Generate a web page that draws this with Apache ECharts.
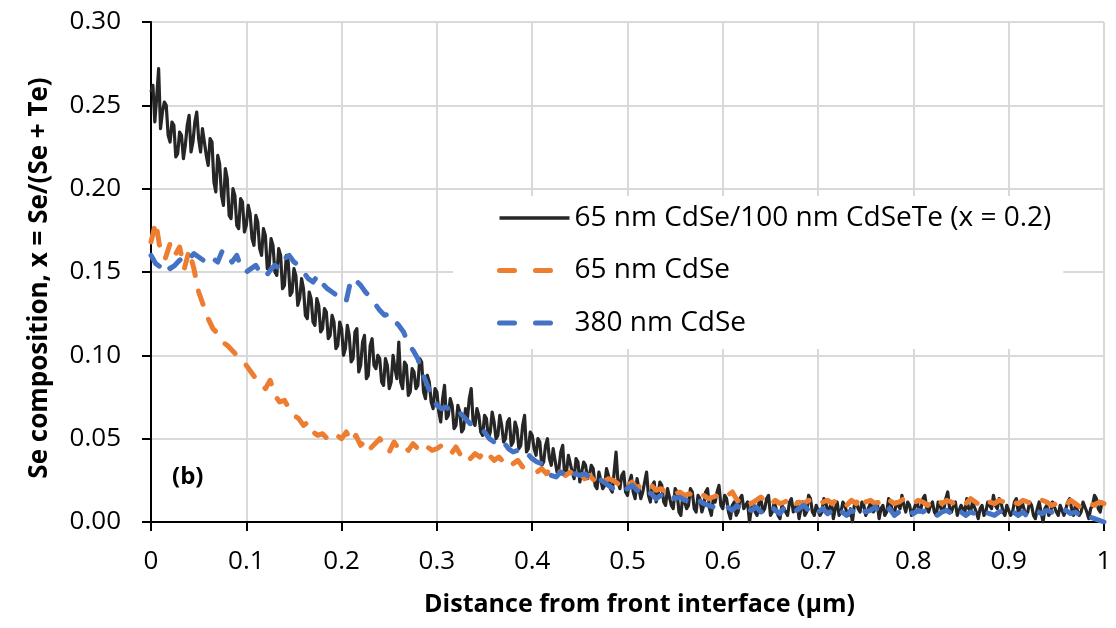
<!DOCTYPE html>
<html>
<head>
<meta charset="utf-8">
<script src="https://cdn.jsdelivr.net/npm/echarts@6/dist/echarts.min.js"></script>
<style>html,body{margin:0;padding:0;background:#fff}#chart{width:1116px;height:628px}</style>
</head>
<body>
<div id="chart"></div>
<script>
// Series names
const seriesNames = ['65 nm CdSe/100 nm CdSeTe (x = 0.2)', '65 nm CdSe', '380 nm CdSe'];
// Sampling steps (µm) of the profiles
const blackStep = 0.002;
const dashStep = 0.005;
// 65 nm CdSe/100 nm CdSeTe (x = 0.2), x = 0 ... 1 µm (one row per 0.1 µm)
const blackY = [
0.258,0.262,0.240,0.255,0.272,0.236,0.246,0.252,0.250,0.232,0.228,0.240,0.238,0.219,0.221,0.234,0.232,0.218,0.226,0.238,0.244,0.222,0.228,0.240,0.246,0.230,0.222,0.236,0.236,0.220,0.214,0.230,0.228,0.204,0.198,0.220,0.215,0.196,0.190,0.212,0.206,0.184,0.182,0.200,0.196,0.178,0.176,0.194,0.192,0.174,
0.178,0.190,0.185,0.170,0.166,0.184,0.180,0.164,0.160,0.176,0.172,0.152,0.154,0.170,0.166,0.150,0.148,0.164,0.160,0.140,0.142,0.160,0.156,0.136,0.138,0.152,0.148,0.130,0.134,0.146,0.140,0.124,0.122,0.138,0.134,0.120,0.118,0.134,0.130,0.114,0.116,0.128,0.126,0.110,0.112,0.124,0.120,0.104,0.106,0.120,
0.116,0.100,0.104,0.118,0.112,0.096,0.098,0.114,0.116,0.090,0.094,0.108,0.112,0.086,0.088,0.106,0.110,0.094,0.092,0.100,0.098,0.084,0.082,0.098,0.094,0.080,0.084,0.100,0.092,0.086,0.108,0.084,0.080,0.096,0.094,0.076,0.078,0.092,0.090,0.080,0.082,0.098,0.096,0.078,0.074,0.088,0.084,0.072,0.068,0.080,
0.078,0.066,0.060,0.074,0.082,0.062,0.064,0.074,0.070,0.056,0.058,0.070,0.066,0.054,0.056,0.068,0.062,0.074,0.080,0.060,0.058,0.068,0.064,0.054,0.052,0.064,0.062,0.050,0.054,0.066,0.060,0.050,0.052,0.064,0.058,0.048,0.050,0.060,0.062,0.046,0.048,0.060,0.056,0.044,0.046,0.058,0.064,0.042,0.044,0.054,
0.052,0.044,0.040,0.050,0.048,0.034,0.036,0.046,0.050,0.038,0.034,0.044,0.044,0.030,0.032,0.042,0.046,0.028,0.030,0.040,0.040,0.030,0.026,0.038,0.036,0.024,0.024,0.036,0.034,0.026,0.028,0.034,0.032,0.022,0.020,0.030,0.030,0.020,0.022,0.032,0.028,0.020,0.018,0.030,0.042,0.024,0.020,0.028,0.030,0.018,
0.016,0.024,0.028,0.018,0.014,0.026,0.026,0.014,0.018,0.024,0.030,0.016,0.012,0.022,0.024,0.012,0.016,0.024,0.022,0.012,0.010,0.020,0.020,0.010,0.008,0.020,0.018,0.006,0.004,0.016,0.016,0.008,0.010,0.020,0.018,0.008,0.006,0.016,0.014,0.006,0.010,0.018,0.020,0.008,0.004,0.014,0.012,0.018,0.022,0.010,
0.008,0.016,0.014,0.006,0.002,0.010,0.012,0.004,0.006,0.014,0.016,0.008,0.008,0.012,0.000,0.008,0.012,0.006,0.004,0.012,0.014,0.006,0.008,0.014,0.016,0.004,0.006,0.012,0.012,0.004,0.002,0.010,0.010,0.006,0.004,0.012,0.014,0.006,0.008,0.012,0.002,0.008,0.012,0.004,0.006,0.016,0.014,0.006,0.004,0.010,
0.010,0.004,0.006,0.014,0.012,0.006,0.008,0.012,0.002,0.008,0.012,0.004,0.006,0.012,0.010,0.006,0.004,0.008,0.000,0.010,0.012,0.008,0.006,0.012,0.010,0.004,0.004,0.010,0.012,0.006,0.008,0.012,0.002,0.008,0.010,0.004,0.006,0.014,0.012,0.006,0.004,0.012,0.010,0.008,0.016,0.010,0.006,0.012,0.010,0.004,
0.004,0.010,0.012,0.006,0.008,0.014,0.016,0.008,0.006,0.010,0.012,0.006,0.004,0.012,0.010,0.006,0.008,0.014,0.018,0.008,0.006,0.010,0.012,0.004,0.004,0.010,0.010,0.006,0.014,0.008,0.006,0.012,0.012,0.006,0.002,0.008,0.010,0.004,0.006,0.012,0.012,0.008,0.016,0.010,0.008,0.014,0.012,0.006,0.004,0.010,
0.010,0.004,0.006,0.012,0.014,0.006,0.008,0.012,0.012,0.004,0.006,0.012,0.010,0.004,0.002,0.008,0.012,0.006,0.000,0.008,0.010,0.004,0.006,0.012,0.012,0.006,0.004,0.010,0.010,0.004,0.008,0.012,0.014,0.008,0.004,0.010,0.010,0.004,0.006,0.012,0.012,0.006,0.002,0.008,0.010,0.016,0.014,0.008,0.006,0.012,
0.010];
// 65 nm CdSe, x = 0 ... 1 µm
const orangeY = [
0.168,0.180,0.162,0.158,0.167,0.160,0.165,0.152,0.163,0.152,0.138,0.130,0.122,0.116,0.113,0.108,0.106,0.103,0.100,0.097,
0.094,0.090,0.086,0.084,0.080,0.085,0.076,0.072,0.073,0.068,0.064,0.062,0.058,0.060,0.054,0.052,0.053,0.050,0.049,0.052,
0.050,0.054,0.048,0.052,0.046,0.049,0.044,0.047,0.050,0.046,0.042,0.048,0.044,0.046,0.043,0.047,0.044,0.042,0.045,0.043,
0.044,0.046,0.043,0.041,0.045,0.040,0.042,0.038,0.041,0.039,0.043,0.040,0.037,0.039,0.036,0.038,0.035,0.037,0.033,0.032,
0.031,0.030,0.032,0.029,0.033,0.031,0.030,0.028,0.030,0.027,0.029,0.026,0.028,0.025,0.027,0.024,0.026,0.025,0.023,0.025,
0.022,0.024,0.020,0.023,0.021,0.022,0.019,0.020,0.018,0.019,0.017,0.018,0.016,0.017,0.015,0.017,0.016,0.014,0.015,0.016,
0.014,0.016,0.018,0.013,0.012,0.014,0.011,0.013,0.015,0.012,0.010,0.013,0.011,0.012,0.014,0.010,0.012,0.011,0.013,0.012,
0.010,0.012,0.013,0.011,0.014,0.012,0.010,0.013,0.011,0.016,0.012,0.013,0.011,0.012,0.010,0.013,0.011,0.012,0.014,0.012,
0.011,0.013,0.012,0.010,0.012,0.014,0.011,0.013,0.012,0.010,0.012,0.011,0.014,0.012,0.010,0.013,0.012,0.011,0.013,0.012,
0.010,0.012,0.011,0.013,0.012,0.010,0.011,0.013,0.012,0.010,0.011,0.012,0.010,0.013,0.011,0.009,0.012,0.011,0.010,0.012,
0.011];
// 380 nm CdSe, x = 0 ... 1 µm
const blueY = [
0.160,0.155,0.153,0.156,0.152,0.154,0.157,0.160,0.158,0.161,0.159,0.157,0.160,0.158,0.156,0.163,0.160,0.156,0.160,0.152,
0.150,0.152,0.154,0.149,0.147,0.151,0.154,0.152,0.158,0.160,0.156,0.154,0.150,0.146,0.144,0.148,0.143,0.140,0.138,0.136,
0.137,0.133,0.146,0.145,0.142,0.138,0.135,0.131,0.127,0.124,0.125,0.121,0.118,0.114,0.107,0.103,0.098,0.089,0.082,0.075,
0.070,0.068,0.069,0.066,0.064,0.065,0.062,0.059,0.058,0.056,0.054,0.050,0.048,0.046,0.048,0.044,0.042,0.043,0.040,0.041,
0.038,0.036,0.035,0.031,0.028,0.027,0.030,0.028,0.026,0.029,0.028,0.029,0.027,0.028,0.026,0.024,0.022,0.020,0.021,0.019,
0.020,0.022,0.019,0.016,0.018,0.017,0.014,0.016,0.015,0.017,0.014,0.015,0.013,0.014,0.012,0.013,0.011,0.010,0.009,0.008,
0.008,0.009,0.007,0.010,0.006,0.008,0.007,0.009,0.006,0.008,0.010,0.007,0.005,0.009,0.008,0.006,0.008,0.010,0.007,0.009,
0.006,0.008,0.005,0.007,0.009,0.006,0.004,0.007,0.005,0.008,0.006,0.007,0.009,0.005,0.006,0.008,0.004,0.006,0.008,0.007,
0.005,0.007,0.006,0.008,0.006,0.004,0.006,0.007,0.005,0.008,0.006,0.004,0.006,0.005,0.007,0.006,0.005,0.004,0.006,0.007,
0.005,0.006,0.004,0.006,0.003,0.004,0.006,0.005,0.007,0.006,0.004,0.006,0.007,0.005,0.006,0.004,0.005,0.003,0.002,0.001,
0.000];

function pairs(ys, step) { return ys.map((y, i) => [+(i * step).toFixed(4), y]); }

const FONT = '"Open Sans", "Noto Sans", sans-serif';
const chart = echarts.init(document.getElementById('chart'), null, {renderer: 'canvas'});
chart.setOption({
  animation: false,
  backgroundColor: '#fff',
  grid: {left: 151, right: 12, top: 22, bottom: 106, containLabel: false},
  xAxis: {
    type: 'value', min: 0, max: 1, interval: 0.1,
    name: 'Distance from front interface (µm)', nameLocation: 'middle', nameGap: 70,
    nameTextStyle: {fontFamily: FONT, fontWeight: 'bold', fontSize: 25, color: '#000', padding: [0, 0, 0, 24]},
    axisLine: {show: true, onZero: false, lineStyle: {color: '#000', width: 2}},
    axisTick: {show: true, inside: false, length: 9, lineStyle: {color: '#000', width: 2}},
    splitLine: {show: true, lineStyle: {color: '#d9d9d9', width: 2}},
    axisLabel: {fontFamily: FONT, fontSize: 26, color: '#000', margin: 27,
      formatter: v => (v === 0 ? '0' : (v === 1 ? '1' : v.toFixed(1)))}
  },
  yAxis: {
    type: 'value', min: 0, max: 0.3, interval: 0.05,
    name: 'Se composition, x = Se/(Se + Te)', nameLocation: 'middle', nameGap: 98, nameRotate: 90,
    nameTextStyle: {fontFamily: FONT, fontWeight: 'bold', fontSize: 26, color: '#000', padding: [0, 12, 0, 0]},
    axisLine: {show: true, lineStyle: {color: '#000', width: 2}},
    axisTick: {show: true, inside: false, length: 9, lineStyle: {color: '#000', width: 2}},
    splitLine: {show: true, lineStyle: {color: '#d9d9d9', width: 2}},
    axisLabel: {fontFamily: FONT, fontSize: 26, color: '#000', margin: 30,
      formatter: v => v.toFixed(2)}
  },
  legend: {
    orient: 'vertical', left: 453, top: 196,
    padding: [4, 12, 8, 44],
    backgroundColor: '#fff',
    itemWidth: 70, itemHeight: 14, itemGap: 16.5, itemTextGap: 10,
    itemStyle: {opacity: 0, borderWidth: 0},
    textStyle: {fontFamily: FONT, fontSize: 28, color: '#000', lineHeight: 36},
    data: [
      {name: seriesNames[0], lineStyle: {width: 3.5, type: 'solid'}},
      {name: seriesNames[1], lineStyle: {width: 5, type: [15, 21], cap: 'round'}},
      {name: seriesNames[2], lineStyle: {width: 5, type: [15, 21], cap: 'round'}}
    ]
  },
  graphic: [{
    type: 'text', left: 172, top: 465, z: 100,
    style: {text: '(b)', font: 'bold 24px ' + FONT, fill: '#000'}
  }],
  series: [
    {name: seriesNames[0], type: 'line', data: pairs(blackY, blackStep), showSymbol: false, symbol: 'none',
     lineStyle: {color: '#262626', width: 3.2, join: 'round'}, itemStyle: {color: '#262626'}, z: 2},
    {name: seriesNames[1], type: 'line', data: pairs(orangeY, dashStep), showSymbol: false, symbol: 'none',
     lineStyle: {color: '#ED7D31', width: 5, type: [14, 16], cap: 'round', join: 'round'}, itemStyle: {color: '#ED7D31'}, z: 3},
    {name: seriesNames[2], type: 'line', data: pairs(blueY, dashStep), showSymbol: false, symbol: 'none',
     lineStyle: {color: '#4472C4', width: 5, type: [14, 16], cap: 'round', join: 'round'}, itemStyle: {color: '#4472C4'}, z: 4}
  ]
});
</script>
</body>
</html>
